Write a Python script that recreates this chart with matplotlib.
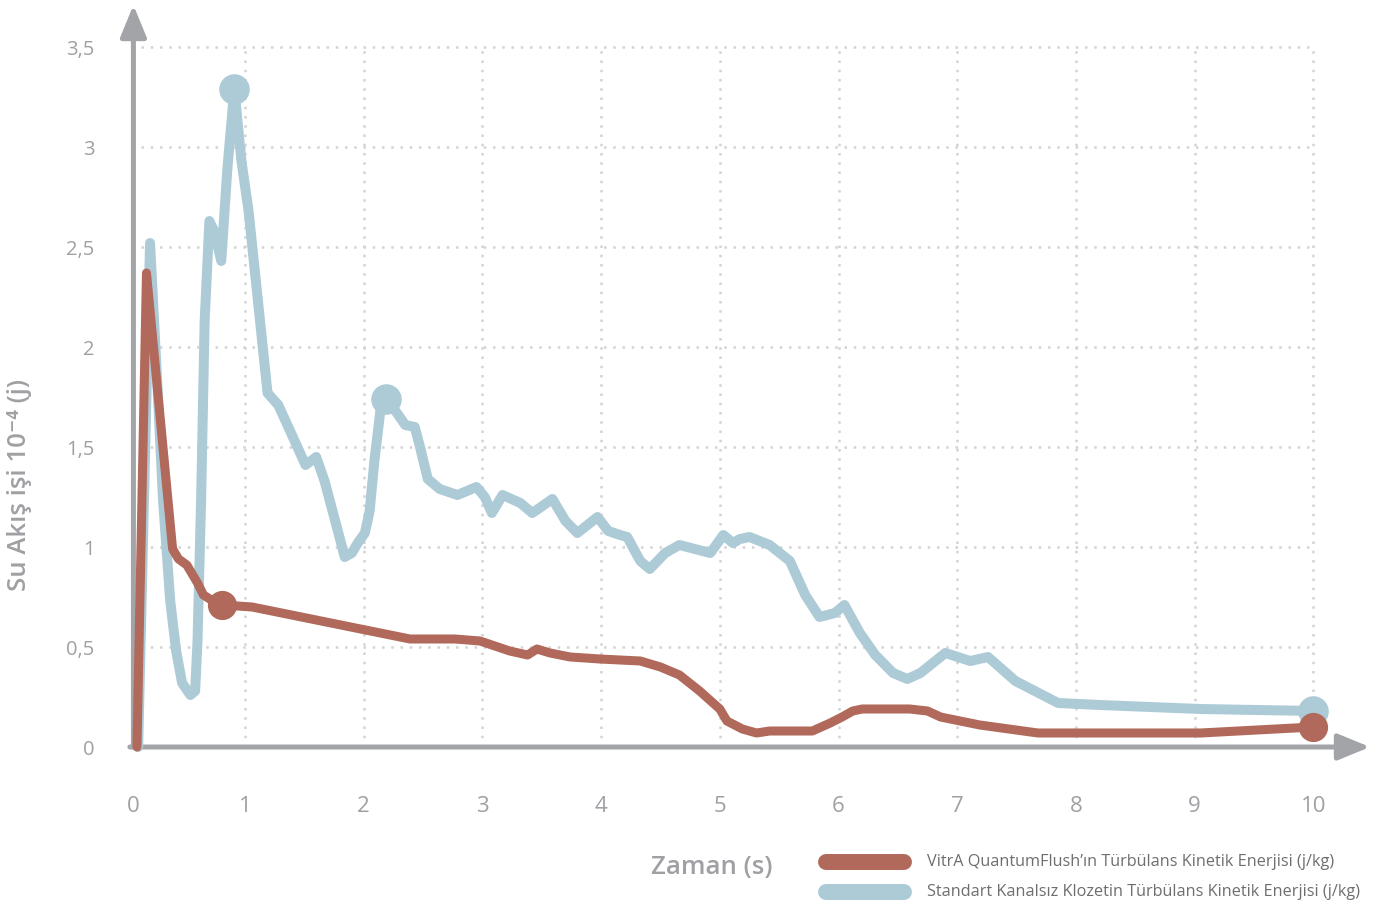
import matplotlib
matplotlib.use("Agg")
from matplotlib import pyplot as plt
from matplotlib.lines import Line2D
from matplotlib.transforms import ScaledTranslation

# time (s) / value (x 10^-4 j) for the two flush curves
std_t = [0.10, 0.20, 0.26, 0.31, 0.37, 0.42, 0.47, 0.54, 0.58, 0.60,
         0.63, 0.66, 0.70, 0.74, 0.80, 0.85, 0.91, 0.97, 1.03, 1.19,
         1.28, 1.38, 1.51, 1.60, 1.67, 1.76, 1.84, 1.90, 1.95, 2.01,
         2.05, 2.09, 2.14, 2.19, 2.28, 2.35, 2.43, 2.47, 2.54, 2.64,
         2.79, 2.95, 3.02, 3.08, 3.17, 3.32, 3.42, 3.59, 3.70, 3.80,
         3.97, 4.06, 4.16, 4.22, 4.33, 4.41, 4.54, 4.66, 4.92, 5.03,
         5.11, 5.17, 5.25, 5.42, 5.59, 5.72, 5.84, 5.97, 6.05, 6.18,
         6.31, 6.46, 6.58, 6.69, 6.90, 7.11, 7.26, 7.49, 7.85, 8.20,
         9.05, 10.0]
std_val = [0.0, 2.52, 1.83, 1.23, 0.73, 0.48, 0.32, 0.26, 0.28, 0.53,
           1.23, 2.13, 2.63, 2.58, 2.43, 2.88, 3.29, 2.93, 2.68, 1.77,
           1.71, 1.58, 1.41, 1.45, 1.33, 1.13, 0.95, 0.97, 1.02, 1.07,
           1.18, 1.43, 1.68, 1.74, 1.67, 1.61, 1.60, 1.51, 1.34, 1.29,
           1.26, 1.30, 1.25, 1.17, 1.26, 1.22, 1.17, 1.24, 1.13, 1.07,
           1.15, 1.08, 1.06, 1.05, 0.93, 0.89, 0.97, 1.01, 0.97, 1.06,
           1.02, 1.04, 1.05, 1.01, 0.93, 0.76, 0.65, 0.67, 0.71, 0.57,
           0.46, 0.37, 0.34, 0.37, 0.47, 0.43, 0.45, 0.33, 0.22, 0.21,
           0.19, 0.18]
std_marks = [16, 33, 81]

vitra_t = [0.09, 0.17, 0.39, 0.44, 0.51, 0.60, 0.65, 0.73, 0.81, 1.06,
           2.14, 2.39, 2.77, 2.98, 3.23, 3.38, 3.46, 3.57, 3.74, 3.99,
           4.33, 4.50, 4.66, 4.83, 5.00, 5.06, 5.19, 5.31, 5.42, 5.78,
           5.93, 6.03, 6.12, 6.20, 6.60, 6.75, 6.86, 7.19, 7.68, 9.05,
           10.0]
vitra_val = [0.0, 2.37, 0.99, 0.94, 0.91, 0.82, 0.76, 0.73, 0.71, 0.70,
             0.57, 0.54, 0.54, 0.53, 0.48, 0.46, 0.49, 0.47, 0.45, 0.44,
             0.43, 0.40, 0.36, 0.28, 0.19, 0.13, 0.09, 0.07, 0.08, 0.08,
             0.12, 0.15, 0.18, 0.19, 0.19, 0.18, 0.15, 0.11, 0.07, 0.07,
             0.10]
vitra_marks = [8, 40]

x_ticks = list(range(11))
x_labels = [str(v) for v in x_ticks]
y_ticks = [0, 0.5, 1, 1.5, 2, 2.5, 3, 3.5]
y_labels = ["0", "0,5", "1", "1,5", "2", "2,5", "3", "3,5"]

RED = "#b0695a"
BLUE = "#adcbd6"
AXIS = "#a3a4a8"
LABEL = "#9fa0a4"
GRID = "#d3d3d3"

plt.rcParams["font.family"] = ["Open Sans", "DejaVu Sans"]

W, H = 1383, 905
fig = plt.figure(figsize=(W / 100, H / 100), dpi=100)
x0, y0, px_x, px_y = 126.3, 747, 118.7, 200
ax = fig.add_axes([x0 / W, (H - y0) / H, (1370 - x0) / W, (y0 - 5) / H])
ax.set_xlim(0, (1370 - x0) / px_x)
ax.set_ylim(0, (y0 - 5) / px_y)
for s in ax.spines.values():
    s.set_visible(False)

# dotted grid
dots = (0, (1, 2.7))
ax.vlines(x_ticks[1:], 0, 3.5, colors=GRID, lw=1.8, linestyles=[dots], zorder=1)
ax.hlines(y_ticks[1:], 0.12, 10, colors=GRID, lw=1.8, linestyles=[dots], zorder=1)

# axes with arrow heads
arrow = dict(arrowstyle="-|>,head_length=1.95,head_width=0.8", lw=3.6,
             color=AXIS, shrinkA=0, shrinkB=0)
ax.annotate("", xy=(0.06, ax.get_ylim()[1]), xytext=(0.06, 0), arrowprops=arrow,
            annotation_clip=False, zorder=2)
ax.annotate("", xy=(ax.get_xlim()[1], 0), xytext=(0.03, 0), arrowprops=arrow,
            annotation_clip=False, zorder=2)

ax.set_xticks(x_ticks, x_labels)
ax.set_yticks(y_ticks, y_labels)
ax.tick_params(length=0, colors=LABEL)
ax.tick_params(axis="x", pad=35, labelsize=16)
ax.tick_params(axis="y", pad=23, labelsize=14.5)
# the "0" sits under the vertical axis line
zero = ax.get_xticklabels()[0]
zero.set_transform(zero.get_transform() + ScaledTranslation(0.07, 0, fig.dpi_scale_trans))

ax.plot(std_t, std_val, color=BLUE, lw=7.2, solid_joinstyle="round",
        solid_capstyle="round", marker="o", markersize=21,
        markevery=std_marks, clip_on=False, zorder=3)
ax.plot(vitra_t, vitra_val, color=RED, lw=6.5, solid_joinstyle="round",
        solid_capstyle="round", marker="o", markersize=20,
        markevery=vitra_marks, clip_on=False, zorder=4)

fig.text(20 / W, 1 - 485 / H, "Su Akış işi 10⁻⁴ (j)", rotation=90,
         ha="center", va="center", color=LABEL, fontsize=18.5, fontweight="semibold")
fig.text(712 / W, 1 - 867 / H, "Zaman (s)", ha="center", va="center",
         color=LABEL, fontsize=18.5, fontweight="semibold")

# legend
legend_items = [
    (RED, "VitrA QuantumFlush’ın Türbülans Kinetik Enerjisi (j/kg)", 862),
    (BLUE, "Standart Kanalsız Klozetin Türbülans Kinetik Enerjisi (j/kg)", 892),
]
for color, text, ypix in legend_items:
    yf = 1 - ypix / H
    fig.add_artist(Line2D([826 / W, 904 / W], [yf, yf], lw=11.5, color=color,
                          solid_capstyle="round"))
    fig.text(927 / W, yf, text, ha="left", va="center", color="#6e6e70",
             fontsize=11.7)

fig.savefig("out.png", dpi=100)
